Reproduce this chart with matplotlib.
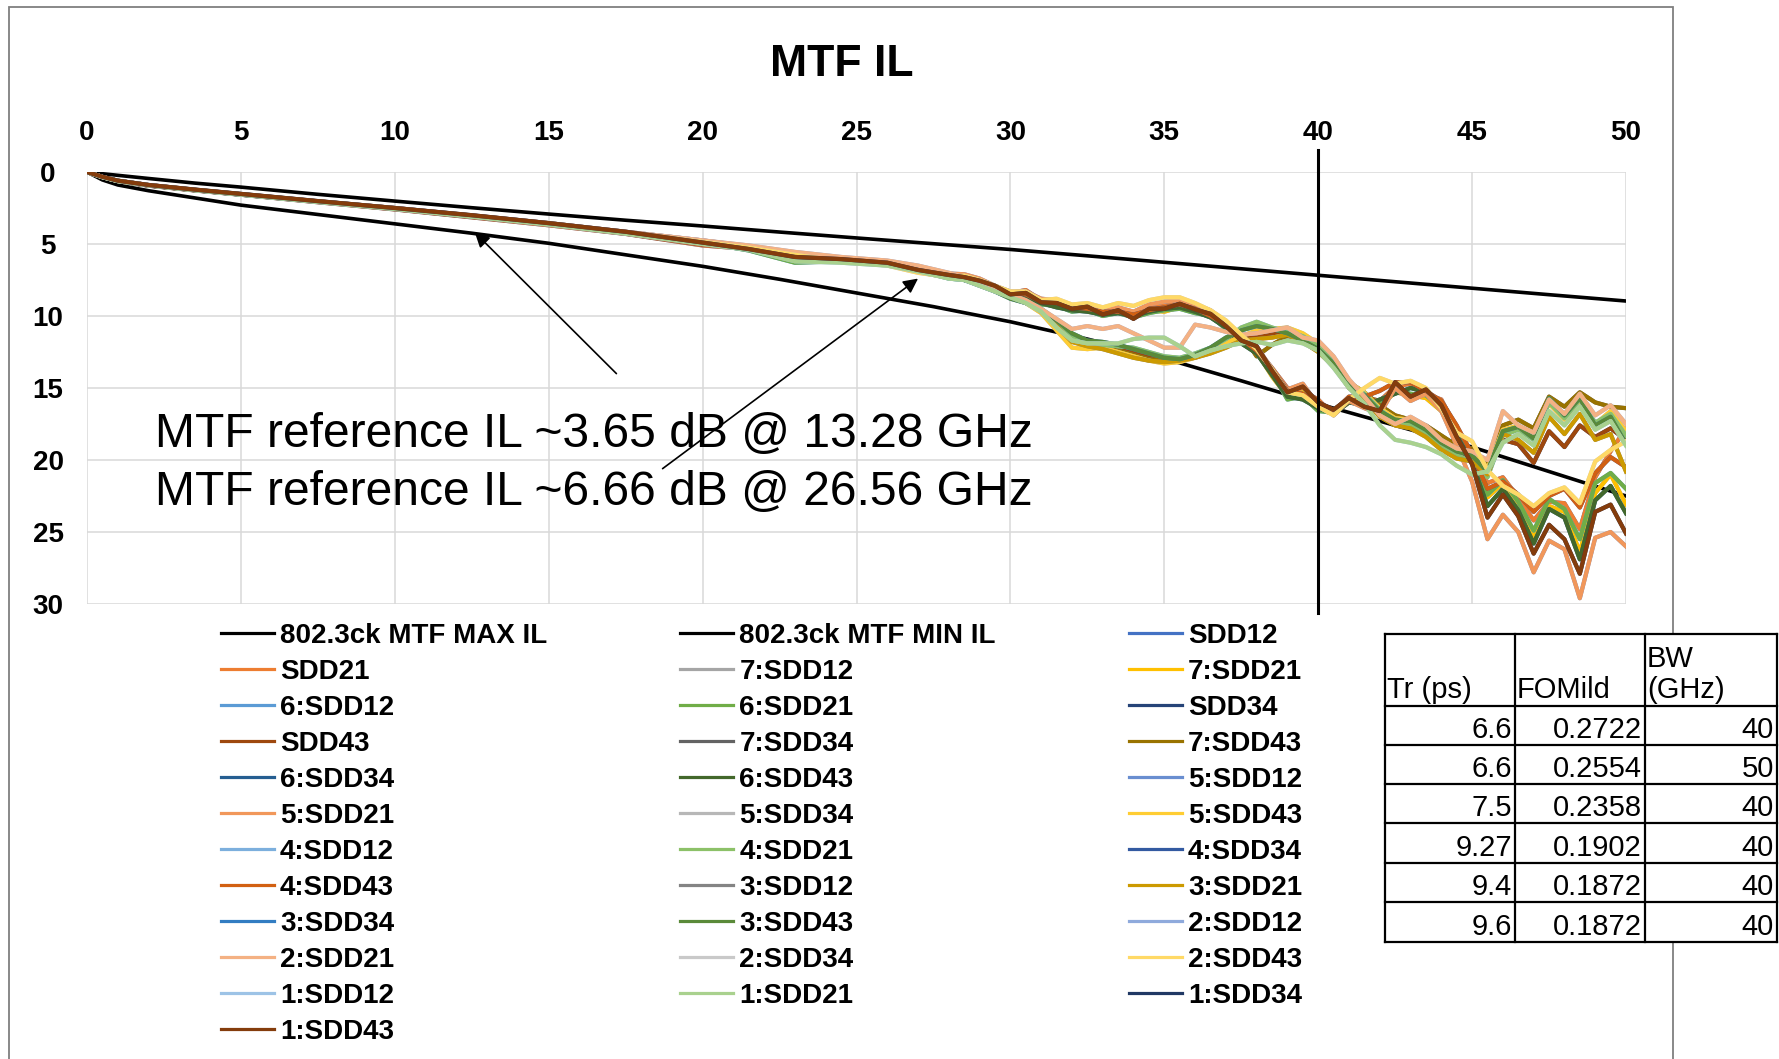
import matplotlib
matplotlib.use('Agg')
import matplotlib.pyplot as plt
import matplotlib.patches as patches
from matplotlib.lines import Line2D

plt.rcParams['font.family'] = ['Liberation Sans', 'DejaVu Sans']

W, H = 1779, 1059

# --- 802.3ck MTF limit lines (dB)
mtf_freq = [0, 0.5, 1, 2, 3.5, 5, 7.5, 10, 12.5, 15, 17.5, 20, 22.5, 25, 27.5, 30,
            32.5, 35, 37.5, 40, 42.5, 45, 47.5, 50]
mtf_max_il = [0, 0.55, 0.9, 1.3, 1.8, 2.3, 2.95, 3.6, 4.25, 4.95, 5.75, 6.55, 7.45, 8.4, 9.35, 10.4,
              11.6, 12.95, 14.5, 16.1, 17.6, 19.1, 20.8, 22.5]
mtf_min_il = [0, 0.12, 0.23, 0.45, 0.77, 1.05, 1.55, 2.02, 2.48, 2.92, 3.35, 3.75, 4.17, 4.58, 4.98, 5.38,
              5.82, 6.27, 6.72, 7.17, 7.62, 8.07, 8.52, 8.96]

# --- measured channels (dB), common frequency grid (GHz)
freq_ghz = [0, 0.5, 1, 2, 3.5, 5, 7.5, 10, 12.5, 15, 17.5, 20, 21.5, 23, 24.5, 26, 27, 28,
            28.5, 29, 29.5, 30, 30.5, 31, 31.5, 32, 32.5, 33, 33.5, 34, 34.5, 35, 35.5, 36,
            36.5, 37, 37.5, 38, 38.5, 39, 39.5, 40,
            40.5, 41, 41.5, 42, 42.5, 43, 43.5, 44, 44.5, 45, 45.5, 46, 46.5, 47, 47.5, 48,
            48.5, 49, 49.5, 50]

il_sdd21 = [0, 0.36, 0.64, 0.95, 1.28, 1.58, 2.1, 2.6, 3.15, 3.7, 4.3, 5.1, 5.35, 5.85, 6.15, 6.4, 6.7, 7.1,
            7.2, 7.5, 8.0, 8.4, 8.2, 8.9, 8.95, 9.4, 9.2, 9.7, 9.4, 9.9, 9.3, 9.3, 9.0, 9.4, 9.7, 10.5,
            11.5, 12.3, 13.6, 15.0, 15.2, 15.8,
            16.9, 15.9, 15.6, 15.9, 14.9, 14.7, 15.4, 15.8, 17.8, 19.5, 21.6, 21.2, 22.6, 24.2, 22.9, 23.0,
            24.8, 21.2, 19.4, 17.8]
il_7_sdd21 = [0, 0.35, 0.62, 0.92, 1.25, 1.55, 2.05, 2.55, 3.08, 3.6, 4.25, 4.95, 5.3, 5.85, 6.25, 6.45, 6.95, 7.35,
              7.4, 7.7, 8.1, 8.6, 8.4, 9.0, 9.2, 9.6, 9.5, 9.8, 9.7, 10.0, 9.6, 9.7, 9.4, 9.6, 9.9, 10.6,
              11.9, 12.5, 14.2, 15.6, 15.3, 16.5,
              16.8, 16.0, 15.8, 16.3, 15.3, 15.5, 15.7, 16.6, 18.0, 19.8, 22.6, 21.6, 23.1, 25.3, 23.2, 23.6,
              26.4, 22.3, 21.0, 23.1]
il_6_sdd21 = [0, 0.35, 0.63, 0.93, 1.26, 1.57, 2.07, 2.55, 3.1, 3.62, 4.22, 4.9, 5.45, 6.3, 6.2, 6.45, 6.85, 7.4,
              7.5, 7.8, 8.2, 8.7, 8.6, 9.2, 9.3, 9.7, 9.6, 10.0, 9.8, 10.1, 9.8, 9.6, 9.5, 9.8, 10.0, 10.9,
              11.8, 12.4, 13.9, 15.8, 15.6, 16.6,
              16.7, 15.9, 16.1, 16.0, 15.1, 15.4, 15.5, 16.4, 18.2, 20.0, 22.4, 21.4, 22.9, 24.9, 22.7, 23.4,
              25.5, 21.6, 20.9, 22.0]
il_5_sdd21 = [0, 0.34, 0.61, 0.91, 1.24, 1.54, 2.04, 2.5, 3.02, 3.55, 4.15, 4.75, 5.15, 5.6, 5.95, 6.2, 6.55, 7.05,
              7.1, 7.4, 7.9, 8.3, 8.3, 8.8, 8.9, 9.3, 9.2, 9.5, 9.4, 9.7, 9.2, 9.0, 8.9, 9.2, 9.6, 10.4,
              11.6, 12.1, 13.7, 15.1, 14.7, 16.2,
              16.8, 15.9, 16.4, 16.8, 15.0, 15.9, 15.4, 16.6, 19.0, 21.5, 25.5, 23.8, 25.0, 27.8, 25.6, 26.2,
              29.6, 25.4, 25.0, 26.0]
il_4_sdd21 = [0, 0.36, 0.63, 0.93, 1.26, 1.56, 2.07, 2.55, 3.08, 3.62, 4.23, 4.9, 5.4, 6.15, 6.25, 6.45, 6.9, 7.35,
              7.5, 7.8, 8.3, 8.7, 9.0, 9.6, 10.6, 11.5, 11.8, 12.0, 12.1, 12.2, 12.5, 12.8, 12.9, 12.6, 12.2, 11.6,
              10.8, 10.4, 10.8, 11.1, 11.4, 12.1,
              13.2, 14.7, 15.4, 16.5, 17.3, 17.5, 18.1, 19.0, 19.7, 20.1, 21.2, 18.3, 17.9, 18.6, 16.0, 17.1,
              15.8, 17.4, 16.8, 18.3]
il_3_sdd21 = [0, 0.35, 0.62, 0.92, 1.25, 1.55, 2.05, 2.53, 3.06, 3.6, 4.2, 4.9, 5.3, 5.85, 6.15, 6.4, 6.8, 7.3,
              7.4, 7.7, 8.2, 8.6, 9.0, 9.7, 10.7, 11.8, 12.1, 12.3, 12.6, 12.9, 13.1, 13.2, 13.1, 12.9, 12.6, 12.2,
              11.7, 11.6, 11.5, 11.3, 11.8, 12.5,
              13.5, 15.0, 15.8, 17.0, 17.6, 17.8, 18.4, 19.3, 19.9, 20.1, 21.0, 18.2, 18.6, 19.5, 17.0, 18.2,
              16.8, 18.6, 18.2, 20.8]
il_2_sdd21 = [0, 0.34, 0.61, 0.9, 1.23, 1.53, 2.03, 2.5, 3.02, 3.55, 4.15, 4.75, 5.1, 5.55, 5.9, 6.15, 6.5, 7.0,
              7.3, 7.6, 8.0, 8.5, 8.9, 9.5, 10.2, 10.9, 10.7, 10.9, 10.7, 11.2, 11.7, 12.2, 12.2, 10.6, 10.8, 11.1,
              11.3, 11.2, 11.0, 10.8, 11.5, 11.7,
              12.8, 14.4, 15.6, 16.9, 17.5, 17.0, 17.6, 18.6, 19.2, 19.4, 20.0, 16.6, 17.6, 18.1, 15.8, 16.8,
              15.4, 16.9, 16.2, 17.5]
il_1_sdd21 = [0, 0.35, 0.62, 0.92, 1.26, 1.57, 2.08, 2.57, 3.1, 3.65, 4.28, 5.0, 5.4, 6.2, 6.3, 6.5, 6.9, 7.4,
              7.5, 7.9, 8.3, 8.7, 9.1, 9.7, 10.8, 11.7, 11.9, 11.9, 11.9, 11.6, 11.5, 11.5, 12.1, 12.8, 12.4, 12.1,
              11.9, 11.8, 12.0, 11.7, 11.9, 12.4,
              13.6, 15.0, 16.1, 17.6, 18.6, 18.8, 19.1, 19.6, 20.4, 21.0, 20.8, 18.8, 18.2, 19.0, 16.6, 17.6,
              16.3, 17.9, 17.3, 19.0]

il_sdd43 = [0, 0.34, 0.61, 0.91, 1.24, 1.54, 2.04, 2.51, 3.04, 3.57, 4.18, 4.85, 5.25, 5.8, 6.05, 6.3, 6.75, 7.2,
            7.4, 7.7, 8.1, 8.6, 9.0, 9.6, 10.4, 11.3, 11.9, 12.1, 12.2, 12.5, 12.8, 12.9, 13.0, 12.7, 12.3, 11.8,
            11.5, 11.4, 11.2, 11.0, 11.5, 12.2,
            13.4, 14.9, 15.6, 16.7, 17.2, 17.4, 17.9, 18.8, 19.5, 19.8, 20.9, 18.6, 18.9, 20.2, 18.0, 19.1,
            17.6, 18.4, 17.8, 18.6]
il_7_sdd43 = [0, 0.35, 0.62, 0.92, 1.25, 1.55, 2.05, 2.52, 3.05, 3.58, 4.2, 4.8, 5.2, 5.7, 6.0, 6.3, 6.7, 7.25,
              7.5, 7.8, 8.2, 8.7, 9.1, 9.7, 10.5, 11.5, 12.1, 12.2, 12.4, 12.7, 13.0, 13.1, 13.1, 12.8, 12.4, 11.6,
              11.2, 12.8, 12.0, 11.4, 11.6, 12.1,
              13.1, 14.6, 15.3, 16.2, 16.9, 17.2, 17.6, 18.3, 19.0, 19.2, 20.4, 17.6, 17.2, 17.8, 15.6, 16.3,
              15.3, 16.0, 16.3, 16.4]
il_6_sdd43 = [0, 0.35, 0.62, 0.93, 1.26, 1.56, 2.06, 2.54, 3.07, 3.6, 4.22, 4.9, 5.35, 6.1, 6.15, 6.4, 6.9, 7.35,
              7.4, 7.8, 8.2, 8.6, 8.7, 9.1, 9.4, 9.6, 9.7, 9.9, 9.8, 10.0, 9.7, 9.5, 9.4, 9.7, 10.1, 10.8,
              11.9, 12.6, 14.1, 15.6, 15.8, 16.4,
              16.8, 16.0, 16.2, 15.8, 15.4, 15.0, 15.3, 16.0, 18.3, 20.2, 23.2, 22.0, 23.5, 25.8, 23.4, 24.0,
              26.9, 22.8, 21.8, 23.7]
il_5_sdd43 = [0, 0.35, 0.62, 0.92, 1.25, 1.56, 2.06, 2.54, 3.07, 3.6, 4.22, 4.9, 5.3, 5.9, 6.2, 6.45, 6.9, 7.2,
              7.3, 7.6, 8.1, 8.6, 9.1, 9.8, 11.0, 12.2, 12.3, 12.2, 12.5, 12.8, 13.1, 13.3, 13.2, 12.9, 12.5, 11.9,
              11.4, 11.0, 10.9, 10.8, 11.2, 11.9,
              13.0, 14.6, 15.3, 16.4, 17.1, 17.2, 17.8, 18.7, 19.3, 19.5, 20.6, 17.9, 17.6, 18.3, 16.1, 17.2,
              15.9, 17.5, 16.6, 18.0]
il_4_sdd43 = [0, 0.36, 0.63, 0.94, 1.27, 1.57, 2.08, 2.58, 3.12, 3.65, 4.28, 5.05, 5.3, 5.75, 6.1, 6.35, 6.7, 7.2,
              7.3, 7.6, 8.1, 8.4, 8.5, 9.0, 9.1, 9.4, 9.5, 9.7, 9.7, 9.9, 9.6, 9.4, 9.2, 9.5, 10.0, 10.6,
              11.6, 12.4, 13.7, 15.2, 15.4, 16.1,
              16.6, 15.6, 15.6, 15.2, 14.6, 14.6, 15.2, 15.9, 17.6, 19.6, 22.0, 21.5, 22.4, 23.6, 22.5, 22.0,
              23.3, 20.9, 19.8, 20.5]
il_3_sdd43 = [0, 0.35, 0.62, 0.92, 1.25, 1.56, 2.06, 2.54, 3.07, 3.6, 4.22, 4.9, 5.4, 6.1, 6.1, 6.45, 6.85, 7.3,
              7.5, 7.9, 8.3, 8.8, 9.1, 9.5, 10.3, 11.2, 11.7, 11.8, 12.0, 12.3, 12.6, 12.9, 13.0, 12.7, 12.2, 11.5,
              11.0, 10.7, 10.9, 11.2, 11.7, 12.3,
              13.3, 14.8, 15.5, 16.6, 17.2, 17.3, 17.9, 18.8, 19.4, 19.7, 20.8, 18.0, 17.7, 18.5, 15.7, 16.9,
              15.7, 17.6, 17.0, 18.9]
il_2_sdd43 = [0, 0.35, 0.62, 0.92, 1.25, 1.55, 2.05, 2.53, 3.06, 3.6, 4.2, 4.85, 5.25, 5.75, 6.2, 6.5, 7.0, 7.3,
              7.2, 7.5, 7.9, 8.3, 8.3, 8.9, 8.8, 9.2, 9.1, 9.4, 9.1, 9.3, 8.9, 8.7, 8.7, 9.1, 9.6, 10.3,
              11.3, 12.3, 13.7, 15.3, 15.5, 16.3,
              16.9, 15.8, 15.0, 14.3, 14.7, 14.5, 15.0, 16.4, 18.1, 18.7, 20.7, 21.8, 22.4, 23.2, 22.3, 21.9,
              23.0, 20.1, 19.3, 18.7]
il_1_sdd43 = [0, 0.33, 0.6, 0.9, 1.22, 1.52, 2.02, 2.5, 3.0, 3.55, 4.15, 4.9, 5.35, 5.9, 6.05, 6.3, 6.8, 7.15,
              7.3, 7.55, 7.9, 8.5, 8.4, 9.05, 9.1, 9.5, 9.35, 9.9, 9.6, 10.2, 9.5, 9.5, 9.15, 9.55, 9.85, 10.7,
              11.7, 12.1, 13.8, 15.3, 14.9, 16.0,
              16.5, 15.7, 16.3, 16.6, 14.6, 15.6, 15.1, 16.2, 18.4, 20.3, 24.0, 22.4, 23.9, 26.5, 24.5, 25.5,
              27.9, 23.6, 23.1, 25.1]

# SDD12/SDD34 trace the same loss as SDD21/SDD43 and sit underneath
channels = [
    ('SDD12', '#4472C4', il_sdd21), ('SDD21', '#ED7D31', il_sdd21),
    ('7:SDD12', '#A5A5A5', il_7_sdd21), ('7:SDD21', '#FFC000', il_7_sdd21),
    ('6:SDD12', '#5B9BD5', il_6_sdd21), ('6:SDD21', '#70AD47', il_6_sdd21),
    ('SDD34', '#264478', il_sdd43), ('SDD43', '#9E480E', il_sdd43),
    ('7:SDD34', '#636363', il_7_sdd43), ('7:SDD43', '#997300', il_7_sdd43),
    ('6:SDD34', '#255E91', il_6_sdd43), ('6:SDD43', '#43682B', il_6_sdd43),
    ('5:SDD12', '#698ED0', il_5_sdd21), ('5:SDD21', '#F1975A', il_5_sdd21),
    ('5:SDD34', '#B7B7B7', il_5_sdd43), ('5:SDD43', '#FFCD33', il_5_sdd43),
    ('4:SDD12', '#7CAFDD', il_4_sdd21), ('4:SDD21', '#8CC168', il_4_sdd21),
    ('4:SDD34', '#335AA1', il_4_sdd43), ('4:SDD43', '#D26012', il_4_sdd43),
    ('3:SDD12', '#848484', il_3_sdd21), ('3:SDD21', '#CC9A00', il_3_sdd21),
    ('3:SDD34', '#327DC2', il_3_sdd43), ('3:SDD43', '#5A8A39', il_3_sdd43),
    ('2:SDD12', '#8FAADC', il_2_sdd21), ('2:SDD21', '#F4B183', il_2_sdd21),
    ('2:SDD34', '#C9C9C9', il_2_sdd43), ('2:SDD43', '#FFD966', il_2_sdd43),
    ('1:SDD12', '#9DC3E6', il_1_sdd21), ('1:SDD21', '#A9D18E', il_1_sdd21),
    ('1:SDD34', '#203864', il_1_sdd43), ('1:SDD43', '#843C0C', il_1_sdd43),
]

x_ticks = [0, 5, 10, 15, 20, 25, 30, 35, 40, 45, 50]
y_ticks = [0, 5, 10, 15, 20, 25, 30]
bw_limit = 40

note_lines = ['MTF reference IL ~3.65 dB @ 13.28 GHz',
              'MTF reference IL ~6.66 dB @ 26.56 GHz']

tbl_header = ['Tr (ps)', 'FOMild', 'BW\n(GHz)']
tr_ps = ['6.6', '6.6', '7.5', '9.27', '9.4', '9.6']
fom_ild = ['0.2722', '0.2554', '0.2358', '0.1902', '0.1872', '0.1872']
bw_ghz = ['40', '50', '40', '40', '40', '40']


def fx(px):
    return px / W


def fy(py):
    return 1 - py / H


fig = plt.figure(figsize=(W / 100, H / 100), dpi=100)
fig.patch.set_facecolor('white')

# chart frame
fig.add_artist(patches.Rectangle((fx(9), fy(1100)), fx(1673) - fx(9), fy(7) - fy(1100),
                                 fill=False, edgecolor='#7f7f7f', lw=1.3))

ax = fig.add_axes([fx(87), fy(604), fx(1626) - fx(87), fy(172) - fy(604)])
ax.set_xlim(0, 50)
ax.set_ylim(30, 0)
for s in ax.spines.values():
    s.set_visible(False)
ax.set_axisbelow(True)
ax.grid(True, color='#d9d9d9', lw=1.1)

handles = []
labels = []
h, = ax.plot(mtf_freq, mtf_max_il, color='black', lw=2.6)
handles.append(h); labels.append('802.3ck MTF MAX IL')
h, = ax.plot(mtf_freq, mtf_min_il, color='black', lw=2.6)
handles.append(h); labels.append('802.3ck MTF MIN IL')
for name, col, vals in channels:
    h, = ax.plot(freq_ghz, vals, color=col, lw=3.0, solid_joinstyle='round')
    handles.append(h); labels.append(name)

ax.axvline(bw_limit, ymin=-0.021, ymax=1.051, color='black', lw=2.2, clip_on=False)

ax.xaxis.tick_top()
ax.set_xticks(x_ticks, labels=[str(v) for v in x_ticks], fontsize=20, fontweight='bold')
ax.set_yticks(y_ticks, labels=[str(v) for v in y_ticks], fontsize=20, fontweight='bold')
ax.tick_params(axis='x', length=0, pad=19)
ax.tick_params(axis='y', length=0, pad=28)
for t in ax.get_yticklabels():
    t.set_ha('center')

fig.text(fx(841.5), fy(75.7), 'MTF IL', fontsize=32, fontweight='bold',
         ha='center', va='baseline')

fig.text(fx(155), fy(446.7), note_lines[0], fontsize=34.6, va='baseline')
fig.text(fx(155), fy(505), note_lines[1], fontsize=34.6, va='baseline')

arrow = dict(arrowstyle='-|>', color='black', lw=1.2, mutation_scale=22, shrinkA=0, shrinkB=0)
ax.annotate('', xy=(12.6, 4.2), xytext=(17.2, 14.0), arrowprops=arrow)
ax.annotate('', xy=(27.0, 7.4), xytext=(18.7, 20.6), arrowprops=arrow)

# legend: Excel fills rows, matplotlib fills columns
order = list(range(0, 34, 3)) + list(range(1, 34, 3)) + list(range(2, 34, 3))
leg = fig.legend([handles[i] for i in order], [labels[i] for i in order], ncol=3,
                 loc='upper left', bbox_to_anchor=(fx(221), fy(623)), frameon=False,
                 prop=dict(weight='bold', size=20), handlelength=1.9, handletextpad=0.22,
                 columnspacing=4.8, labelspacing=0.36, borderpad=0, borderaxespad=0)
for ln in leg.get_lines():
    ln.set_linewidth(2.3)

# FOM table
col_edges = [1385, 1515, 1645, 1777]
row_edges = [634, 706, 745, 784, 823, 863, 902, 942]
fig.add_artist(patches.Rectangle((fx(col_edges[0]), fy(row_edges[-1])),
                                 fx(col_edges[-1]) - fx(col_edges[0]),
                                 fy(row_edges[0]) - fy(row_edges[-1]),
                                 facecolor='white', edgecolor='none'))
for xe in col_edges:
    fig.add_artist(Line2D([fx(xe), fx(xe)], [fy(row_edges[0]), fy(row_edges[-1])], color='black', lw=1.6))
for ye in row_edges:
    fig.add_artist(Line2D([fx(col_edges[0]), fx(col_edges[-1])], [fy(ye), fy(ye)], color='black', lw=1.6))
for j, txt in enumerate(tbl_header):
    fig.text(fx(col_edges[j] + 2), fy(row_edges[1] - 8), txt, fontsize=21, va='baseline',
             linespacing=1.15)
for i, row in enumerate(zip(tr_ps, fom_ild, bw_ghz)):
    for j, txt in enumerate(row):
        fig.text(fx(col_edges[j + 1] - 3), fy(row_edges[i + 2] - 7), txt, fontsize=21,
                 ha='right', va='baseline')

fig.savefig('out.png', dpi=100)
